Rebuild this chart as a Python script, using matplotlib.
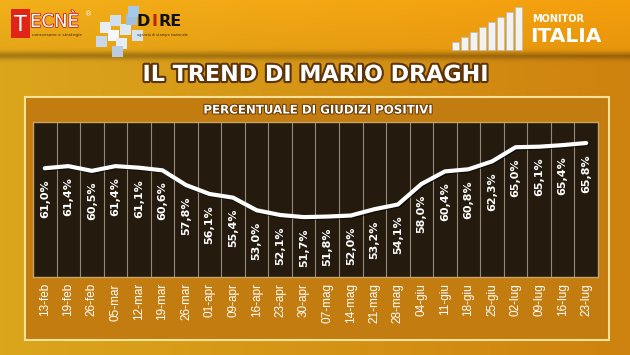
import numpy as np
import matplotlib
matplotlib.use("Agg")
import matplotlib.pyplot as plt
import matplotlib.patches as mpatches
import matplotlib.patheffects as pe

# ---- data ----
dates = ["13-feb", "19-feb", "26-feb", "05-mar", "12-mar", "19-mar", "26-mar",
         "01-apr", "09-apr", "16-apr", "23-apr", "30-apr", "07-mag", "14-mag",
         "21-mag", "28-mag", "04-giu", "11-giu", "18-giu", "25-giu", "02-lug",
         "09-lug", "16-lug", "23-lug"]
values = [61.0, 61.4, 60.5, 61.4, 61.1, 60.6, 57.8, 56.1, 55.4, 53.0, 52.1, 51.7,
          51.8, 52.0, 53.2, 54.1, 58.0, 60.4, 60.8, 62.3, 65.0, 65.1, 65.4, 65.8]
title = "IL TREND DI MARIO DRAGHI"
subtitle = "PERCENTUALE DI GIUDIZI POSITIVI"

W, H = 630, 355
fig = plt.figure(figsize=(W / 100, H / 100), dpi=100)

# ---- background ----
bg = fig.add_axes([0, 0, 1, 1])
bg.set_xlim(0, W)
bg.set_ylim(H, 0)
bg.axis("off")

yy, xx = np.mgrid[0:H, 0:W]
t = (xx / W)[..., None]
left = np.array([0.86, 0.65, 0.11])
right = np.array([0.81, 0.51, 0.06])
img = left * (1 - t) + right * t
# header
head_l = np.array([0.95, 0.69, 0.10])
head_r = np.array([0.96, 0.62, 0.05])
head = head_l * (1 - t) + head_r * t
s = (yy / 55.0)[..., None]
head = head * (1 - 0.06 * s)
hmask = (yy < 55)[..., None]
img = np.where(hmask, head, img)
band = np.exp(-((yy - 55) / 4.0) ** 2)[..., None]
img = img * (1 - 0.25 * band)
bg.imshow(np.clip(img, 0, 1), extent=(0, W, H, 0), aspect="auto", zorder=0)

# panel
bg.add_patch(mpatches.Rectangle((25, 97), 584, 243, facecolor="#c27c10",
                                edgecolor="#f6e39a", lw=1.5, zorder=1))

# logos (decorative)
bg.add_patch(mpatches.Rectangle((11, 9), 19, 29, facecolor="#e02418", edgecolor="none", zorder=2))
bg.text(20.5, 25, "T", color="white", fontsize=15, ha="center", va="center",
        family="DejaVu Sans", zorder=3)
bg.text(30, 22, "ECNÈ", color="white", fontsize=13, ha="left", va="center",
        family="DejaVu Sans", zorder=3,
        path_effects=[pe.withStroke(linewidth=1.2, foreground="#d02018")])
bg.text(89, 14, "®", color="white", fontsize=5, ha="center", va="center", zorder=3)
bg.text(32, 35, "concorsone e strategie", color="#3a2a10", fontsize=3.2, ha="left",
        va="center", zorder=3)
cubes = [(100, 22, "#e8eef5"), (110, 15, "#cfdff0"), (108, 30, "#f4f7fb"), (120, 24, "#dde8f3"),
         (116, 38, "#e6edf5"), (126, 14, "#9fc0e0"), (96, 36, "#c8d8ea"), (112, 46, "#b8cde2"),
         (132, 30, "#d5e3f1"), (128, 6, "#a8c8e8")]
for cx, cy, col in cubes:
    bg.add_patch(mpatches.Rectangle((cx, cy), 11, 11, facecolor=col, edgecolor="none", zorder=2))
bg.text(137, 22, "D", color="#111111", fontsize=11.5, fontweight="bold", ha="left", va="center", zorder=3)
bg.text(151.5, 22, "I", color="#c0201a", fontsize=11.5, fontweight="bold", ha="left", va="center", zorder=3)
bg.text(158.5, 22, "RE", color="#111111", fontsize=11.5, fontweight="bold", ha="left", va="center", zorder=3)
bg.text(137, 35, "agenzia di stampa nazionale", color="#3a2a10", fontsize=2.5, ha="left", va="center", zorder=3)

for i in range(8):
    bx = 452 + i * 9
    bh = 8 + i * 5
    bg.add_patch(mpatches.Rectangle((bx, 50 - bh), 6.5, bh, facecolor="#f2f2f2",
                                    edgecolor="#bbbbbb", lw=0.5, zorder=2))
bg.text(532, 19, "MONITOR", color="white", fontsize=7, fontweight="bold", ha="left", va="center", zorder=3)
bg.text(530, 36, "ITALIA", color="white", fontsize=14.5, fontweight="bold", ha="left", va="center", zorder=3)

# titles
bg.text(W / 2, 75, title, color="white", fontsize=16, fontweight="bold", ha="center", va="center",
        family="DejaVu Sans", zorder=3,
        path_effects=[pe.withStroke(linewidth=3, foreground="#5c3408")])
bg.text(318, 110, subtitle, color="white", fontsize=8.5, fontweight="bold", ha="center", va="center",
        family="DejaVu Sans", zorder=3,
        path_effects=[pe.withStroke(linewidth=1.5, foreground="#6a3c08")])

# ---- chart ----
x0p, x1p, y0p, y1p = 33, 598, 122, 277
ax = fig.add_axes([x0p / W, 1 - y1p / H, (x1p - x0p) / W, (y1p - y0p) / H])
ax.set_facecolor("#241a0e")
n = len(values)
x = np.arange(n)
ax.set_xlim(-0.5, n - 0.5)
ax.set_ylim(40.3, 69.8)
for sp in ax.spines.values():
    sp.set_color("#c9a466")
    sp.set_linewidth(1.0)
for b in np.arange(0.5, n - 0.5, 1.0):
    ax.axvline(b, color="#958a7a", lw=0.8, zorder=1)

ax.plot(x, values, color="white", lw=3, solid_joinstyle="round", solid_capstyle="round",
        zorder=3, path_effects=[pe.SimpleLineShadow(offset=(0.8, -0.8), shadow_color="black", alpha=0.6),
                                pe.Normal()])
for xi, v in zip(x, values):
    ax.annotate(f"{v:.1f}%".replace(".", ","), xy=(xi, v), xytext=(0, -8),
                textcoords="offset points", rotation=90, ha="center", va="top",
                color="white", fontsize=8, fontweight="bold", family="DejaVu Sans", zorder=4)

ax.set_yticks([])
ax.set_xticks(x)
ax.set_xticklabels(dates, rotation=90, color="white", fontsize=8.5, family="Liberation Sans")
ax.tick_params(axis="x", length=0, pad=4.5)

fig.savefig("out.png", dpi=100)
